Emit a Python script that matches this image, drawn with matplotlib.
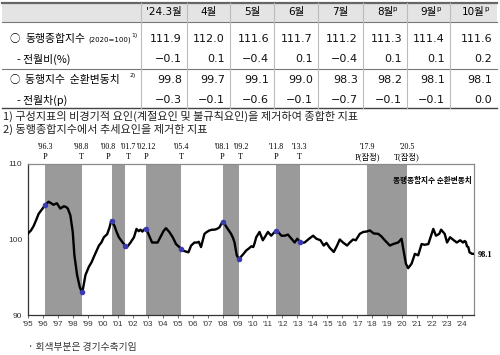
import numpy as np
import matplotlib
matplotlib.use('Agg')
import matplotlib.pyplot as plt
from matplotlib.patches import Rectangle

plt.rcParams['font.family'] = ['Noto Sans CJK KR', 'DejaVu Sans']

# 표 데이터
months = ["'24.3월", "4월", "5월", "6월", "7월", "8월", "9월", "10월"]
prelim = [False, False, False, False, False, True, True, True]
composite = ['111.9', '112.0', '111.6', '111.7', '111.2', '111.3', '111.4', '111.6']
composite_chg = ['−0.1', '0.1', '−0.4', '0.1', '−0.4', '0.1', '0.1', '0.2']
cycle = ['99.8', '99.7', '99.1', '99.0', '98.3', '98.2', '98.1', '98.1']
cycle_chg = ['−0.3', '−0.1', '−0.6', '−0.1', '−0.7', '−0.1', '−0.1', '0.0']

# 순환변동치 (그림에서 읽은 값, 연도 소수 표기)
dates = [1995.00, 1995.20, 1995.38, 1995.55, 1995.71, 1995.90, 1996.16, 1996.38, 1996.55, 1996.70,
         1996.93, 1997.16, 1997.39, 1997.55, 1997.66, 1997.83, 1997.99, 1998.10, 1998.28, 1998.46,
         1998.62, 1998.84, 1999.07, 1999.25, 1999.40, 1999.58, 1999.74, 1999.90, 2000.07, 2000.29,
         2000.45, 2000.56, 2000.78, 2000.92, 2001.07, 2001.25, 2001.41, 2001.58, 2001.70, 2001.85,
         2002.08, 2002.25, 2002.40, 2002.52, 2002.64, 2002.75, 2002.88, 2003.10, 2003.29, 2003.50,
         2003.66, 2003.89, 2004.05, 2004.22, 2004.44, 2004.67, 2004.89, 2005.05, 2005.23, 2005.40,
         2005.56, 2005.72, 2005.90, 2006.12, 2006.30, 2006.41, 2006.56, 2006.79, 2006.95, 2007.12,
         2007.30, 2007.46, 2007.62, 2007.79, 2008.01, 2008.15, 2008.28, 2008.42, 2008.57, 2008.70,
         2008.80, 2008.95, 2009.09, 2009.22, 2009.36, 2009.58, 2009.75, 2009.92, 2010.05, 2010.14,
         2010.25, 2010.47, 2010.69, 2010.85, 2011.03, 2011.25, 2011.48, 2011.63, 2011.80, 2011.93,
         2012.15, 2012.37, 2012.60, 2012.82, 2012.99, 2013.22, 2013.48, 2013.78, 2014.05, 2014.27,
         2014.54, 2014.76, 2014.94, 2015.16, 2015.43, 2015.65, 2015.83, 2016.05, 2016.32, 2016.50,
         2016.72, 2016.90, 2017.17, 2017.40, 2017.62, 2017.84, 2018.10, 2018.40, 2018.62, 2018.84,
         2019.18, 2019.40, 2019.73, 2019.96, 2020.07, 2020.25, 2020.40, 2020.63, 2020.85, 2021.07,
         2021.30, 2021.50, 2021.75, 2021.97, 2022.08, 2022.26, 2022.48, 2022.60, 2022.84, 2023.00,
         2023.20, 2023.45, 2023.65, 2023.88, 2024.06, 2024.17, 2024.25, 2024.33, 2024.42, 2024.50,
         2024.58, 2024.67, 2024.75]
values = [100.8, 101.2, 101.8, 102.6, 103.4, 103.9, 104.6, 105.0, 104.8, 104.6,
          104.8, 104.1, 104.4, 104.3, 104.1, 103.2, 101.0, 97.9, 95.3, 93.7,
          92.9, 95.3, 96.4, 97.0, 97.7, 98.5, 99.2, 99.6, 100.3, 100.7,
          101.6, 102.5, 101.8, 101.0, 100.3, 99.8, 99.4, 98.9, 99.2, 99.6,
          100.3, 101.4, 101.1, 101.3, 101.05, 101.3, 101.5, 100.5, 99.6, 99.6,
          99.6, 100.5, 101.1, 101.5, 101.0, 100.3, 99.4, 99.1, 98.8, 98.5,
          98.4, 98.3, 99.2, 99.6, 99.6, 99.7, 99.0, 100.75, 101.0, 101.2,
          101.3, 101.3, 101.4, 101.6, 102.4, 102.0, 101.6, 101.2, 100.75, 100.2,
          99.6, 97.9, 97.4, 97.7, 98.0, 98.55, 98.8, 99.1, 99.0, 99.5,
          100.3, 101.0, 99.9, 100.4, 101.0, 100.5, 101.0, 101.2, 100.8, 100.5,
          100.5, 100.65, 100.1, 99.6, 100.1, 99.55, 99.6, 100.1, 100.5, 100.1,
          99.9, 99.2, 99.55, 98.9, 98.35, 99.2, 100.0, 99.6, 99.2, 99.6,
          100.0, 99.9, 100.75, 101.0, 101.05, 101.2, 100.8, 100.75, 100.4, 99.9,
          99.2, 99.4, 99.6, 100.1, 98.8, 96.8, 96.2, 96.8, 98.1, 97.9,
          99.4, 99.3, 99.4, 100.75, 101.4, 100.5, 100.75, 101.3, 100.75, 99.6,
          100.3, 99.9, 99.6, 99.9, 99.6, 99.8, 99.7, 99.1, 99.0, 98.3,
          98.2, 98.1, 98.1]

# 경기 정점(P)/저점(T)
peaks = [1996 + 2/12, 2000 + 7/12, 2002 + 11/12, 2008.0, 2011 + 7/12, 2017 + 8/12]
troughs = [1998 + 7/12, 2001 + 6/12, 2005 + 3/12, 2009 + 1/12, 2013 + 2/12, 2020 + 4/12]
peak_labels = ["'96.3", "'00.8", "'02.12", "'08.1", "'11.8", "'17.9"]
trough_labels = ["'98.8", "'01.7", "'05.4", "'09.2", "'13.3", "'20.5"]
provisional = [False, False, False, False, False, True]

fig = plt.figure(figsize=(5, 3.55), dpi=100)

# 표와 주석용 오버레이 (픽셀 좌표)
ov = fig.add_axes([0, 0, 1, 1])
ov.set_xlim(0, 500)
ov.set_ylim(355, 0)
ov.axis('off')

col_edges = [141, 187, 230, 274, 318, 363, 407, 450, 497]
row_y = [39, 59, 80, 100]
num_font = ['DejaVu Sans', 'Noto Sans CJK KR']

ov.add_patch(Rectangle((2, 3), 495, 19, facecolor='#e4e4e4', edgecolor='none'))
ov.plot([2, 497], [3, 3], color='#666666', lw=1.6)
ov.plot([2, 497], [22, 22], color='#777777', lw=0.8)
ov.plot([2, 497], [69, 69], color='#777777', lw=0.8)
ov.plot([2, 497], [107.5, 107.5], color='#444444', lw=1.0)
for x in col_edges[:-1]:
    ov.plot([x, x], [3, 107.5], color='#bbbbbb', lw=0.8)

for i, m in enumerate(months):
    cx = (col_edges[i] + col_edges[i + 1]) / 2
    ov.text(cx, 12.5, m, ha='center', va='center', fontsize=7.5, family=num_font)
    if prelim[i]:
        ov.text(cx + len(m) * 3.2 + 1, 9, 'p', ha='left', va='center', fontsize=5, family=num_font)

for r, row in enumerate([composite, composite_chg, cycle, cycle_chg]):
    for i, v in enumerate(row):
        ov.text(col_edges[i + 1] - 5, row_y[r], v, ha='right', va='center',
                fontsize=8, family=num_font, color='#111111')

ov.text(9, row_y[0], '○', ha='left', va='center', fontsize=7.5)
ov.text(25, row_y[0], '동행종합지수', ha='left', va='center', fontsize=7.8)
ov.text(88, row_y[0] + 1, '(2020=100)', ha='left', va='center', fontsize=5, family=num_font)
ov.text(131, row_y[0] - 4, '1)', ha='left', va='center', fontsize=4.3, family=num_font)
ov.text(17, row_y[1], '- 전월비(%)', ha='left', va='center', fontsize=7.8)
ov.text(9, row_y[2], '○', ha='left', va='center', fontsize=7.5)
ov.text(25, row_y[2], '동행지수  순환변동치', ha='left', va='center', fontsize=7.8)
ov.text(130, row_y[2] - 4, '2)', ha='left', va='center', fontsize=4.3, family=num_font)
ov.text(17, row_y[3], '- 전월차(p)', ha='left', va='center', fontsize=7.8)

ov.text(3, 116, '1) 구성지표의 비경기적 요인(계절요인 및 불규칙요인)을 제거하여 종합한 지표',
        ha='left', va='center', fontsize=8, color='#222222')
ov.text(3, 129, '2) 동행종합지수에서 추세요인을 제거한 지표',
        ha='left', va='center', fontsize=8, color='#222222')
ov.text(28, 347, '· 회색부분은 경기수축기임', ha='left', va='center', fontsize=7, color='#333333')

# 그래프
ax = fig.add_axes([28 / 500, (355 - 315) / 355, 446 / 500, 151 / 355])
ax.set_xlim(1995, 2024.8)
ax.set_ylim(90, 110)

for p, t in zip(peaks, troughs):
    ax.axvspan(p, t, color='#9a9a9a', lw=0)

ax.plot(dates, values, color='black', lw=1.7, zorder=3)

turns = [d for pair in zip(peaks[:-1], troughs[:-1]) for d in pair]
ax.plot(turns, np.interp(turns, dates, values), 'o', color='#3b3bb0', ms=3, zorder=4)

# 가까운 라벨은 조금 옆으로 밀어 겹치지 않게
peak_shift = [0, -2.5, 0, 0, 0, 0]
trough_shift = [0, 2.5, 0, 1.5, 0, 0]
serif = ['Liberation Serif', 'Noto Sans CJK KR']
for d, lab, pv, dx in zip(peaks, peak_labels, provisional, peak_shift):
    ax.annotate(lab, xy=(d, 1), xycoords=('data', 'axes fraction'), xytext=(dx, 12),
                textcoords='offset points', ha='center', va='center', fontsize=5.8, family=serif)
    ax.annotate('P(잠정)' if pv else 'P', xy=(d, 1), xycoords=('data', 'axes fraction'),
                xytext=(dx, 5), textcoords='offset points', ha='center', va='center',
                fontsize=6, family=serif)
for d, lab, pv, dx in zip(troughs, trough_labels, provisional, trough_shift):
    ax.annotate(lab, xy=(d, 1), xycoords=('data', 'axes fraction'), xytext=(dx, 12),
                textcoords='offset points', ha='center', va='center', fontsize=5.8, family=serif)
    ax.annotate('T(잠정)' if pv else 'T', xy=(d, 1), xycoords=('data', 'axes fraction'),
                xytext=(dx, 5), textcoords='offset points', ha='center', va='center',
                fontsize=6, family=serif)

ax.text(0.995, 0.89, '동행종합지수 순환변동치', transform=ax.transAxes, ha='right', va='center',
        fontsize=5.5, fontweight='bold')
ax.annotate('98.1', xy=(dates[-1], values[-1]), xytext=(3, -1), textcoords='offset points',
            ha='left', va='center', fontsize=6, fontweight='bold', family=serif,
            annotation_clip=False)

years = list(range(1995, 2025))
ax.set_xticks(years)
ax.set_xticklabels(["'%02d" % (y % 100) for y in years], fontsize=5.8, family='Liberation Sans',
                   color='#333333')
ax.set_yticks([90, 100, 110])
ax.set_yticklabels(['90', '100', '110'], fontsize=6, family='Liberation Sans', color='#333333')
ax.tick_params(axis='x', length=2, width=0.6, pad=2, color='#555555')
ax.tick_params(axis='y', length=0, pad=4)
for s in ['left', 'bottom']:
    ax.spines[s].set_color('#333333')
    ax.spines[s].set_linewidth(0.9)
for s in ['top', 'right']:
    ax.spines[s].set_color('#8a8a8a')
    ax.spines[s].set_linewidth(0.9)

fig.savefig('out.png', dpi=100)
